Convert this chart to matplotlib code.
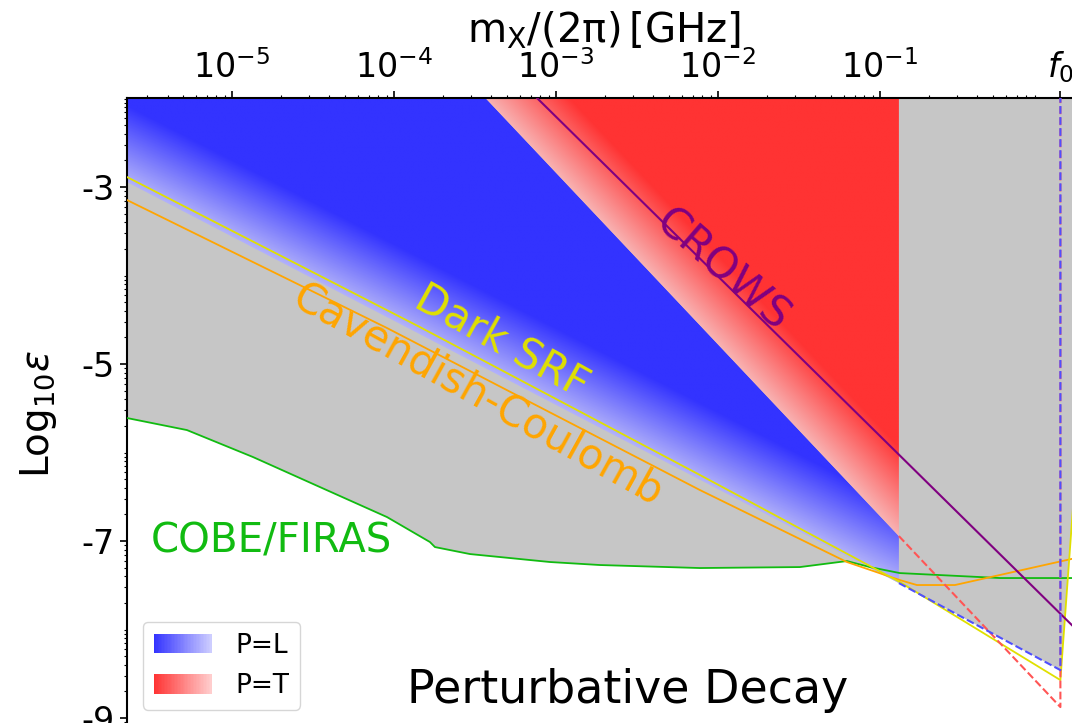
import numpy as np
import matplotlib
matplotlib.use('Agg')
import matplotlib.pyplot as plt
from matplotlib.patches import Polygon, Rectangle, Patch
from matplotlib.legend_handler import HandlerBase

# x = log10(m_X/(2pi) / GHz), y = log10(epsilon)
f0 = 1.3  # GHz

firas_x = [-5.648, -5.278, -4.870, -4.457, -4.043, -3.778, -3.747, -3.531, -3.037,
           -2.728, -2.111, -1.494, -1.204, -1.062, -0.877, -0.259, 0.235]
firas_y = [-5.610, -5.746, -6.051, -6.390, -6.729, -7.011, -7.068, -7.147, -7.237,
           -7.271, -7.305, -7.294, -7.226, -7.294, -7.362, -7.418, -7.418]

srf_x = [-5.648, -3.840, -2.111, -0.877, 0.114, 0.204]
srf_y = [-2.887, -4.582, -6.254, -7.463, -8.571, -6.311]

cav_x = [-5.648, -4.043, -2.111, -1.204, -0.877, -0.772, -0.537, 0.235]
cav_y = [-3.147, -4.593, -6.424, -7.237, -7.441, -7.497, -7.497, -7.181]

crows_x = [-3.117, 0.235]
crows_y = [-1.994, -8.040]

# lower edge of the P=L band, border between P=L and P=T, end of both bands
pl_x = [-5.648, -0.883]
pl_y = [-2.944, -7.475]
pt_x = [-3.69, -0.883]
pt_y = [-1.5, -6.944]
band_end = -0.883
# perturbative decay extrapolation down to f0
pl_dec_y = -8.458
pt_dec_y = -8.876

xmin, xmax = -5.648, 0.235
ymin, ymax = -9.135, -1.994
lf0 = np.log10(f0)

blue_dark = np.array([51, 51, 255]) / 255
blue_light = np.array([178, 178, 250]) / 255
red_dark = np.array([255, 51, 51]) / 255
red_light = np.array([248, 178, 178]) / 255


class GradHandler(HandlerBase):
    def __init__(self, c0, c1, n=40):
        super().__init__()
        self.c0, self.c1, self.n = c0, c1, n

    def create_artists(self, legend, orig_handle, xdescent, ydescent,
                       width, height, fontsize, trans):
        w = width / self.n
        out = []
        for i in range(self.n):
            t = i / (self.n - 1)
            c = self.c0 * (1 - t) + self.c1 * t
            out.append(Rectangle((-xdescent + i * w, -ydescent), w * 1.05, height,
                                 fc=c, ec='none', transform=trans))
        return out


fig = plt.figure(figsize=(10.72, 7.23), dpi=100)
ax = fig.add_axes([127 / 1072, -7 / 723, 953 / 1072, 632 / 723])
ax.set_xlim(xmin, xmax)
ax.set_ylim(ymin, ymax)

# grey excluded region
xs = np.linspace(xmin, lf0, 800)
lower = np.minimum(np.interp(xs, firas_x, firas_y),
                   np.interp(xs, pl_x + [lf0], pl_y + [pl_dec_y]))
gx = list(xs) + [x for x in srf_x if x > lf0] + [xmax + 1, xmax + 1, xmin]
gy = list(lower) + [y for x, y in zip(srf_x, srf_y) if x > lf0] + [srf_y[-1], ymax + 1, ymax + 1]
ax.add_patch(Polygon(np.column_stack([gx, gy]), closed=True, fc='#c6c6c6', ec='none', zorder=1))

# gradient bands
X, Y = np.meshgrid(np.linspace(xmin, xmax, 1200), np.linspace(ymin, ymax, 800))
tb = np.clip((Y - np.interp(X, pl_x, pl_y)) / 0.87, 0, 1)[..., None]
blue_img = blue_light * (1 - tb) + blue_dark * tb
tr = np.clip((X - np.interp(Y, pt_y[::-1], pt_x[::-1])) / 0.52, 0, 1)[..., None]
red_img = red_light * (1 - tr) + red_dark * tr

blue_poly = Polygon([(pl_x[0], pl_y[0]), (band_end, pl_y[-1]), (band_end, pt_y[-1]),
                     (pt_x[0], pt_y[0]), (xmin, pt_y[0])], transform=ax.transData)
red_poly = Polygon([(pt_x[0], pt_y[0]), (band_end, pt_y[-1]), (band_end, pt_y[0])],
                   transform=ax.transData)
for img, poly in [(blue_img, blue_poly), (red_img, red_poly)]:
    im = ax.imshow(img, extent=[xmin, xmax, ymin, ymax], origin='lower',
                   aspect='auto', interpolation='bilinear', zorder=2)
    im.set_clip_path(poly)

ax.plot(firas_x, firas_y, color='#11bb11', lw=1.3, zorder=4)
ax.plot(cav_x, cav_y, color='orange', lw=1.3, zorder=4)
ax.plot(srf_x, srf_y, color='#e0e000', lw=1.3, zorder=4)
ax.plot(crows_x, crows_y, color='purple', lw=1.5, zorder=4)
ax.plot([band_end, lf0, lf0], [pt_y[-1], pt_dec_y, ymax], '--', color='#ff5555', lw=1.5, zorder=4)
ax.plot([pl_x[-1], lf0, lf0], [pl_y[-1], pl_dec_y, ymax], '--', color='#4f4fff', lw=1.5, zorder=5)

ax.text(-1.975, -3.94, 'CROWS', color='purple', fontsize=31, rotation=-41,
        ha='center', va='center', rotation_mode='anchor', zorder=6)
ax.text(-3.333, -4.751, 'Dark SRF', color='#e0e000', fontsize=30, rotation=-29,
        ha='center', va='center', rotation_mode='anchor', zorder=6)
ax.text(-3.481, -5.350, 'Cavendish-Coulomb', color='orange', fontsize=30, rotation=-29,
        ha='center', va='center', rotation_mode='anchor', zorder=6)
ax.text(-4.759, -7.0, 'COBE/FIRAS', color='#11bb11', fontsize=29,
        ha='center', va='center', zorder=6)
ax.text(-2.556, -8.684, 'Perturbative Decay', color='black', fontsize=33,
        ha='center', va='center', zorder=6)

# axes / ticks
ax.xaxis.tick_top()
ax.xaxis.set_label_position('top')
ax.set_xticks([-5, -4, -3, -2, -1, lf0])
ax.set_xticklabels([r'$10^{-5}$', r'$10^{-4}$', r'$10^{-3}$', r'$10^{-2}$', r'$10^{-1}$', r'$f_0$'])
xminor = [n + np.log10(k) for n in range(-6, 1) for k in range(2, 10)]
ax.set_xticks([v for v in xminor if xmin < v < xmax], minor=True)
ax.set_yticks([-3, -5, -7, -9])
ax.set_yticklabels(['-3', '-5', '-7', '-9'])
yminor = [n + np.log10(k) for n in range(-10, -1) for k in range(1, 10)]
ax.set_yticks([v for v in yminor if ymin < v < ymax and v not in (-3, -5, -7, -9)], minor=True)
ax.tick_params(which='major', length=5, width=1.2, labelsize=24, pad=4)
ax.tick_params(which='minor', length=2.5, width=0.8)
for s in ax.spines.values():
    s.set_linewidth(1.5)
ax.set_xlabel(r'$\mathrm{m_X/(2\pi)\,[GHz]}$', fontsize=29, labelpad=5)
ax.set_ylabel(r'Log$_{10}\varepsilon$', fontsize=28, labelpad=16)

h1 = Patch(label='P=L')
h2 = Patch(label='P=T')
ax.legend(handles=[h1, h2], handler_map={h1: GradHandler(blue_dark, np.array([205, 205, 255]) / 255),
                                         h2: GradHandler(red_dark, np.array([255, 205, 205]) / 255)},
          fontsize=19, handlelength=2.2, handleheight=0.75, handletextpad=0.9,
          labelspacing=0.55, borderpad=0.4, borderaxespad=0, loc='upper left',
          bbox_to_anchor=(143 / 1072, 1 - 622 / 723), bbox_transform=fig.transFigure)

fig.savefig('out.png', dpi=100)
